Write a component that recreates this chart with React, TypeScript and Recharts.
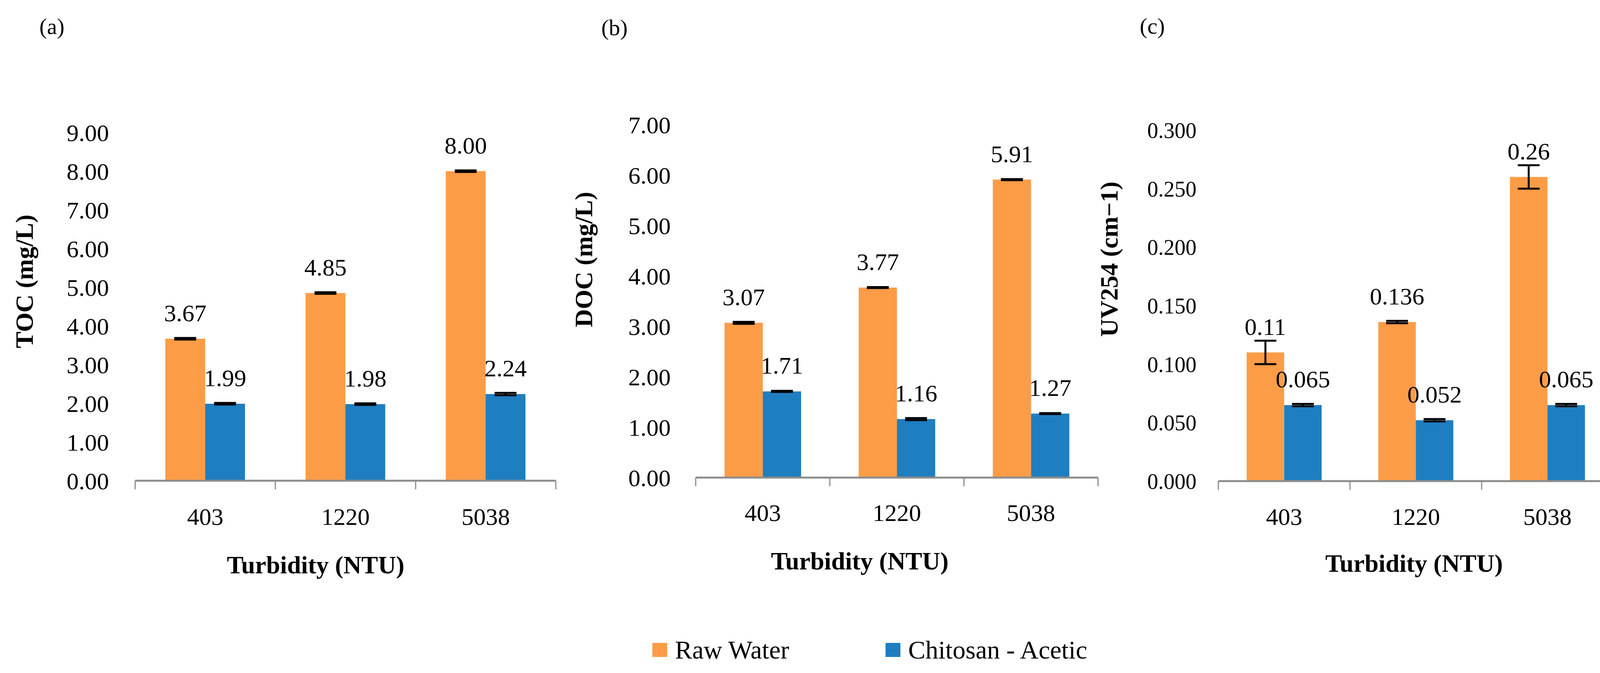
import React from 'react';
import { BarChart, Bar, XAxis, YAxis, ErrorBar, LabelList, Label } from 'recharts';

const categories = ['403', '1220', '5038'];

const tocRaw = [3.67, 4.85, 8.0];
const tocChitosan = [1.99, 1.98, 2.24];
const tocRawErr = [0.02, 0.02, 0.02];
const tocChitosanErr = [0.02, 0.02, 0.03];

const docRaw = [3.07, 3.77, 5.91];
const docChitosan = [1.71, 1.16, 1.27];
const docRawErr = [0.02, 0.01, 0.01];
const docChitosanErr = [0.01, 0.02, 0.01];

const uvRaw = [0.11, 0.136, 0.26];
const uvChitosan = [0.065, 0.052, 0.065];
const uvRawErr = [0.01, 0.001, 0.01];
const uvChitosanErr = [0.001, 0.001, 0.001];

const tocTicks = [0, 1, 2, 3, 4, 5, 6, 7, 8, 9];
const docTicks = [0, 1, 2, 3, 4, 5, 6, 7];
const uvTicks = [0, 0.05, 0.1, 0.15, 0.2, 0.25, 0.3];

const ORANGE = '#FD9C47';
const BLUE = '#1F7EBF';
const AXIS_GRAY = '#8c8c8c';
const FONT = '"Liberation Serif", "Times New Roman", serif';
const H = 1722;
const X_AXIS_H = 300;

const buildRows = (raw: number[], chit: number[], rawErr: number[], chitErr: number[]) =>
  categories.map((c, i) => ({
    name: c,
    raw: raw[i],
    chitosan: chit[i],
    rawErr: rawErr[i],
    chitosanErr: chitErr[i],
  }));

interface PanelProps {
  tag: string;
  tagX: number;
  tagY: number;
  left: number;
  width: number;
  top: number;
  bottom: number;
  yAxisWidth: number;
  tickMargin: number;
  tickFont: number;
  marginRight: number;
  data: ReturnType<typeof buildRows>;
  ticks: number[];
  tickFmt: (v: number) => string;
  labelFmt: (v: number) => string;
  yTitle: string;
  yTitleX: number;
  yTitleY: number;
  xTitleX: number;
  xTitleY: number;
  xTickY: number;
}

const Panel: React.FC<PanelProps> = (p) => {
  const plotW = p.width - p.yAxisWidth - p.marginRight;
  const half = plotW / categories.length / 2;

  const renderTick = (props: any) => {
    const { x, payload, index } = props;
    return (
      <g>
        <text x={x} y={p.xTickY} textAnchor="middle" dominantBaseline="central" fontSize={62} fontFamily={FONT} fill="#000">
          {payload.value}
        </text>
        <line x1={x - half} x2={x - half} y1={p.bottom} y2={p.bottom + 22} stroke={AXIS_GRAY} strokeWidth={3} />
        {index === categories.length - 1 && (
          <line x1={x + half} x2={x + half} y1={p.bottom} y2={p.bottom + 22} stroke={AXIS_GRAY} strokeWidth={3} />
        )}
      </g>
    );
  };

  const renderLabel = (props: any) => {
    const { x, y, width, value } = props;
    return (
      <text x={x + width / 2} y={y - 45} textAnchor="middle" fontSize={62} fontFamily={FONT} fill="#000">
        {p.labelFmt(value)}
      </text>
    );
  };

  return (
    <div style={{ position: 'absolute', left: p.left, top: 0, width: p.width, height: H }}>
      <div
        style={{
          position: 'absolute',
          left: p.tagX - p.left - 60,
          top: p.tagY - 40,
          width: 120,
          height: 80,
          lineHeight: '80px',
          textAlign: 'center',
          fontFamily: FONT,
          fontSize: 58,
        }}
      >
        {p.tag}
      </div>
      <BarChart
        width={p.width}
        height={H}
        data={p.data}
        margin={{ top: p.top, right: p.marginRight, bottom: H - p.bottom - X_AXIS_H, left: 0 }}
        barCategoryGap="21.5%"
        barGap={0}
      >
        <XAxis
          dataKey="name"
          height={X_AXIS_H}
          interval={0}
          tickLine={false}
          axisLine={{ stroke: AXIS_GRAY, strokeWidth: 5 }}
          tick={renderTick}
        >
          <Label
            content={() => (
              <text
                x={p.xTitleX - p.left}
                y={p.xTitleY}
                textAnchor="middle"
                dominantBaseline="central"
                fontSize={64}
                fontWeight="bold"
                fontFamily={FONT}
                fill="#000"
              >
                Turbidity (NTU)
              </text>
            )}
          />
        </XAxis>
        <YAxis
          width={p.yAxisWidth}
          domain={[p.ticks[0], p.ticks[p.ticks.length - 1]]}
          ticks={p.ticks}
          interval={0}
          axisLine={false}
          tickLine={false}
          tickSize={0}
          tickMargin={p.tickMargin}
          tickFormatter={p.tickFmt}
          tick={{ fontSize: p.tickFont, fontFamily: FONT, fill: '#000' }}
        >
          <Label
            content={() => (
              <text
                x={p.yTitleX - p.left}
                y={p.yTitleY}
                transform={`rotate(-90 ${p.yTitleX - p.left} ${p.yTitleY})`}
                textAnchor="middle"
                dominantBaseline="central"
                fontSize={64}
                fontWeight="bold"
                fontFamily={FONT}
                fill="#000"
              >
                {p.yTitle}
              </text>
            )}
          />
        </YAxis>
        <Bar dataKey="raw" name="Raw Water" fill={ORANGE} isAnimationActive={false}>
          <ErrorBar dataKey="rawErr" width={28} strokeWidth={5} stroke="#000" />
          <LabelList dataKey="raw" content={renderLabel} />
        </Bar>
        <Bar dataKey="chitosan" name="Chitosan - Acetic" fill={BLUE} isAnimationActive={false}>
          <ErrorBar dataKey="chitosanErr" width={28} strokeWidth={5} stroke="#000" />
          <LabelList dataKey="chitosan" content={renderLabel} />
        </Bar>
      </BarChart>
    </div>
  );
};

const LegendItem: React.FC<{ x: number; color: string; text: string }> = ({ x, color, text }) => (
  <div style={{ position: 'absolute', left: x, top: 1623, height: 80, display: 'flex', alignItems: 'center' }}>
    <div style={{ width: 38, height: 36, backgroundColor: color, marginRight: 20 }} />
    <span style={{ fontFamily: FONT, fontSize: 66, color: '#000', whiteSpace: 'nowrap' }}>{text}</span>
  </div>
);

const App: React.FC = () => {
  const two = (v: number) => v.toFixed(2);
  const three = (v: number) => v.toFixed(3);
  return (
    <div style={{ position: 'absolute', left: 0, top: 0, width: 4169, height: H, background: '#fff', overflow: 'hidden' }}>
      <Panel
        tag="(a)"
        tagX={133}
        tagY={68}
        left={0}
        width={1440}
        top={339}
        bottom={1230}
        yAxisWidth={346}
        tickMargin={67}
        tickFont={62}
        marginRight={17}
        data={buildRows(tocRaw, tocChitosan, tocRawErr, tocChitosanErr)}
        ticks={tocTicks}
        tickFmt={two}
        labelFmt={two}
        yTitle="TOC (mg/L)"
        yTitleX={62}
        yTitleY={720}
        xTitleX={808}
        xTitleY={1445}
        xTickY={1322}
      />
      <Panel
        tag="(b)"
        tagX={1573}
        tagY={71}
        left={1440}
        width={1390}
        top={319}
        bottom={1222}
        yAxisWidth={341}
        tickMargin={64}
        tickFont={62}
        marginRight={19}
        data={buildRows(docRaw, docChitosan, docRawErr, docChitosanErr)}
        ticks={docTicks}
        tickFmt={two}
        labelFmt={two}
        yTitle="DOC (mg/L)"
        yTitleX={1494}
        yTitleY={664}
        xTitleX={2201}
        xTitleY={1435}
        xTickY={1312}
      />
      <Panel
        tag="(c)"
        tagX={2950}
        tagY={67}
        left={2780}
        width={1369}
        top={333}
        bottom={1231}
        yAxisWidth={339}
        tickMargin={56}
        tickFont={56}
        marginRight={19}
        data={buildRows(uvRaw, uvChitosan, uvRawErr, uvChitosanErr)}
        ticks={uvTicks}
        tickFmt={three}
        labelFmt={(v) => String(v)}
        yTitle="UV254 (cm−1)"
        yTitleX={2839}
        yTitleY={663}
        xTitleX={3620}
        xTitleY={1441}
        xTickY={1322}
      />
      <LegendItem x={1670} color={ORANGE} text="Raw Water" />
      <LegendItem x={2267} color={BLUE} text="Chitosan - Acetic" />
    </div>
  );
};

export default App;
